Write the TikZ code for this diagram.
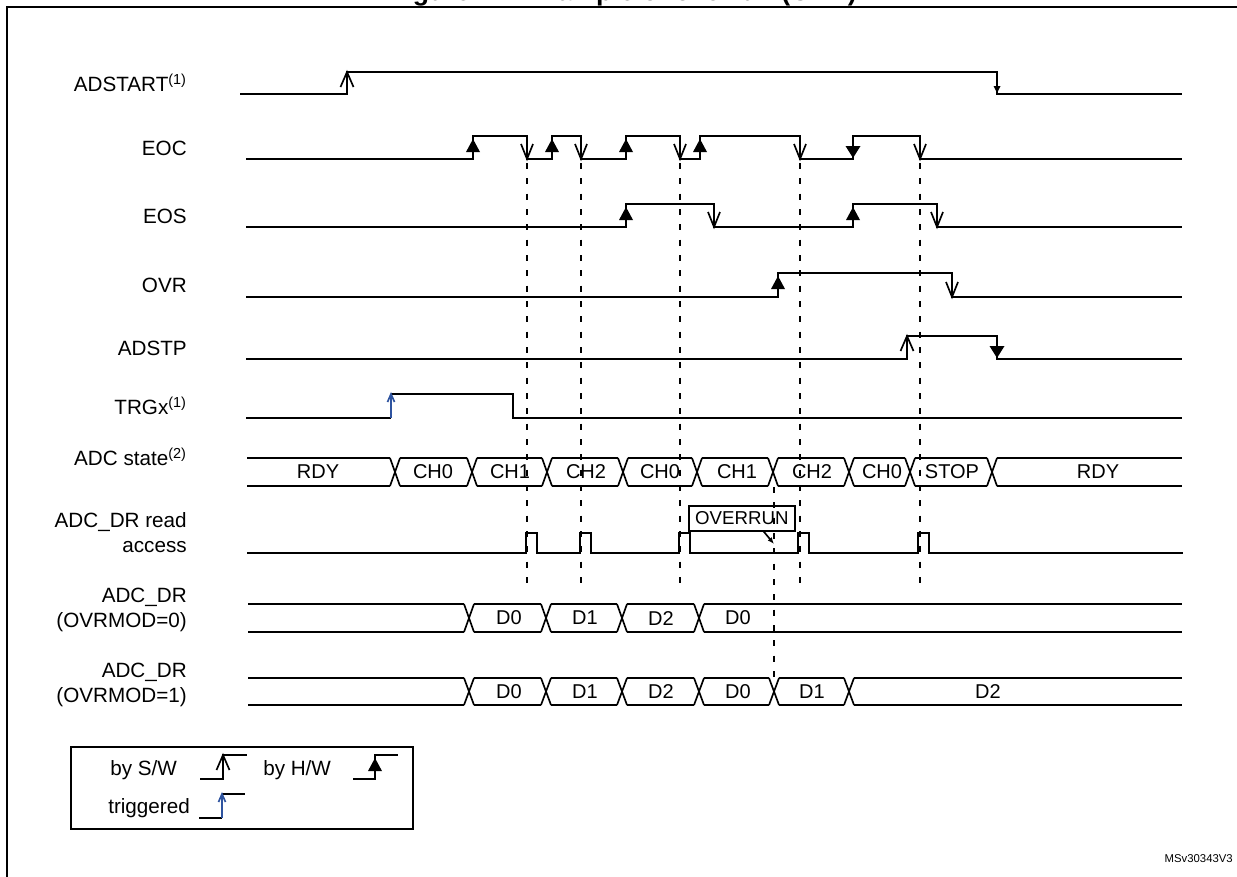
\documentclass[tikz,border=0pt]{standalone}
\usepackage{fontspec}
\setmainfont{Liberation Sans}
\usetikzlibrary{arrows.meta}
\definecolor{trgblue}{RGB}{47,84,160}
\tikzset{
 sig/.style={line width=1.25pt, line join=miter},
 dsh/.style={line width=1.4pt, dash pattern=on 4.5pt off 7pt},
 lbl/.style={font=\fontsize{15.5}{18.75}\selectfont, align=right, anchor=east, inner sep=0pt},
 bustxt/.style={font=\fontsize{15}{16}\selectfont, inner sep=0pt},
 frame/.style={line width=1.6pt},
}
% arrowhead helpers (x, y of level)
\newcommand\arrOpenUp[2]{\draw[sig] (#1-6.5,#2+15) -- (#1,#2) -- (#1+6.5,#2+15);}
\newcommand\arrOpenDn[2]{\draw[sig] (#1-6,#2-15) -- (#1,#2) -- (#1+6,#2-15);}
\newcommand\arrFillUp[2]{\fill (#1,#2+3) -- (#1-7,#2+16) -- (#1+7,#2+16) -- cycle;}
\newcommand\arrFillDn[2]{\fill (#1,#2-1) -- (#1-7.5,#2-13) -- (#1+7.5,#2-13) -- cycle;}
\newcommand\arrSmallDn[2]{\fill (#1,#2-1) -- (#1-3.5,#2-8) -- (#1+3.5,#2-8) -- cycle;}
\newcommand\arrBlueUp[2]{\draw[sig,trgblue] (#1-3.5,#2+8) -- (#1,#2) -- (#1+3.5,#2+8);}
\begin{document}
\begin{tikzpicture}[x=0.75pt,y=-0.75pt]
\useasboundingbox (0,0) rectangle (1237,876);
% title (cropped) and frame
\node[anchor=base, font=\bfseries\fontsize{20}{22}\selectfont, inner sep=0pt] (title) at (623,0.5) {Figure 41. Example of overrun (OVR)};
\draw[frame] (7,900) -- (7,7) -- (1260,7);
\node[anchor=base east, font=\fontsize{8.5}{10}\selectfont, inner sep=0pt] (msv) at (1233,862) {MSv30343V3};

% labels
\node[lbl] (lAS) at (187,83) {ADSTART\textsuperscript{(1)}};
\node[lbl] (lEOC) at (187,148) {EOC};
\node[lbl] (lEOS) at (187,216) {EOS};
\node[lbl] (lOVR) at (187,285) {OVR};
\node[lbl] (lSTP) at (187,348) {ADSTP};
\node[lbl] (lTRG) at (187,406) {TRGx\textsuperscript{(1)}};
\node[lbl] (lST) at (187,457) {ADC state\textsuperscript{(2)}};
\node[lbl] (lRD) at (187,532.5) {ADC\_DR read\\access};
\node[lbl] (lD0) at (187,609.5) {ADC\_DR\\(OVRMOD=0)};
\node[lbl] (lD1) at (187,684.5) {ADC\_DR\\(OVRMOD=1)};

% dashed guides
\foreach \x in {527,581,680,800,920} \draw[dsh] (\x,163) -- (\x,583);
\draw[dsh] (774,487) -- (774,678);

% ADSTART
\draw[sig] (240,94) -| (347,72) -| (997,94) -- (1182,94);
\arrOpenUp{347}{72}
\arrSmallDn{997}{94}

% EOC
\draw[sig] (246,159) -| (473,136) -| (527,159) -| (552,136) -| (581,159) -| (626,136) -| (680,159) -| (700,136) -| (800,159) -| (853,136) -| (920,159) -- (1182,159);
\arrFillUp{473}{136} \arrOpenDn{527}{159}
\arrFillUp{552}{136} \arrOpenDn{581}{159}
\arrFillUp{626}{136} \arrOpenDn{680}{159}
\arrFillUp{700}{136} \arrOpenDn{800}{159}
\arrFillDn{853}{159} \arrOpenDn{920}{159}

% EOS
\draw[sig] (246,227) -| (626,204) -| (714,227) -| (853,204) -| (937,227) -- (1182,227);
\arrFillUp{626}{204} \arrOpenDn{714}{227}
\arrFillUp{853}{204} \arrOpenDn{937}{227}

% OVR
\draw[sig] (246,297) -| (778,273) -| (952,297) -- (1182,297);
\arrFillUp{778}{273} \arrOpenDn{952}{297}

% ADSTP
\draw[sig] (246,359) -| (907,336) -| (997,359) -- (1182,359);
\arrOpenUp{907}{336} \arrFillDn{997}{359}

% TRGx
\draw[sig] (246,418) -- (391,418);
\draw[sig,trgblue] (391,418) -- (391,394);
\draw[sig] (391,394) -| (513,418) -- (1182,418);
\arrBlueUp{391}{394}

% ADC state bus
\foreach \a/\b in {242/395,395/472,472/547,547/623,623/697,697/773,773/849,849/910,910/992,992/1187}
  {\draw[sig] (\a+5,458) -- (\b-5,458); \draw[sig] (\a+5,486) -- (\b-5,486);}
\foreach \t in {395,472,547,623,697,773,849,910,992}
  {\draw[sig] (\t-5,458) -- (\t+5,486); \draw[sig] (\t-5,486) -- (\t+5,458);}
\node[bustxt] (s1) at (318,472) {RDY};
\node[bustxt] (s2) at (433,472) {CH0};
\node[bustxt] (s3) at (510,472) {CH1};
\node[bustxt] (s4) at (586,472) {CH2};
\node[bustxt] (s5) at (660,472) {CH0};
\node[bustxt] (s6) at (737,472) {CH1};
\node[bustxt] (s7) at (812,472) {CH2};
\node[bustxt] (s8) at (882,472) {CH0};
\node[bustxt] (s9) at (952,472) {STOP};
\node[bustxt] (s10) at (1098,472) {RDY};

% ADC_DR read access
\draw[sig] (247,553) -| (526,533) -| (537,553) -| (580,533) -| (591,553) -| (679,533) -| (690,553) -| (798,533) -| (809,553) -| (918,533) -| (929,553) -- (1183,553);

% OVERRUN box
\node[draw, sig, inner sep=0pt, minimum width=79.5pt, minimum height=18.75pt, anchor=north west, font=\fontsize{14}{16}\selectfont] (ovrbox) at (688,505) {OVERRUN};
\coordinate (ovrtip) at (774,544);
\draw[sig, -{Latex[length=5pt,width=4pt]}] ([xshift=16.5pt]ovrbox.south) -- (ovrtip);

% ADC_DR OVRMOD=0
\foreach \a/\b in {243/469,469/546,546/622,622/699,699/1187}
  {\draw[sig] (\a+5,604) -- (\b-5,604); \draw[sig] (\a+5,632) -- (\b-5,632);}
\foreach \t in {469,546,622,699}
  {\draw[sig] (\t-5,604) -- (\t+5,632); \draw[sig] (\t-5,632) -- (\t+5,604);}
\node[bustxt] (a1) at (509,618) {D0};
\node[bustxt] (a2) at (585,618) {D1};
\node[bustxt] (a3) at (661,618) {D2};
\node[bustxt] (a4) at (738,618) {D0};

% ADC_DR OVRMOD=1
\foreach \a/\b in {243/469,469/546,546/622,622/699,699/774,774/849,849/1187}
  {\draw[sig] (\a+5,678) -- (\b-5,678); \draw[sig] (\a+5,705) -- (\b-5,705);}
\foreach \t in {469,546,622,699,774,849}
  {\draw[sig] (\t-5,678) -- (\t+5,705); \draw[sig] (\t-5,705) -- (\t+5,678);}
\node[bustxt] (b1) at (509,691.5) {D0};
\node[bustxt] (b2) at (585,691.5) {D1};
\node[bustxt] (b3) at (661,691.5) {D2};
\node[bustxt] (b4) at (738,691.5) {D0};
\node[bustxt] (b5) at (812,691.5) {D1};
\node[bustxt] (b6) at (988,691.5) {D2};

% legend
\draw[frame] (71,747) rectangle (413,829);
\node[lbl, anchor=west] (k1) at (110,770) {by S/W};
\draw[sig] (200,779) -| (223,755) -- (247,755);
\arrOpenUp{223}{755}
\node[lbl, anchor=west] (k2) at (263,770) {by H/W};
\draw[sig] (353,779) -| (375,755) -- (398,755);
\arrFillUp{375}{755}
\node[lbl, anchor=west] (k3) at (108,808) {triggered};
\draw[sig] (199,818) -- (222,818);
\draw[sig,trgblue] (222,818) -- (222,794);
\draw[sig] (222,794) -- (245,794);
\arrBlueUp{222}{794}
\end{tikzpicture}
\end{document}
